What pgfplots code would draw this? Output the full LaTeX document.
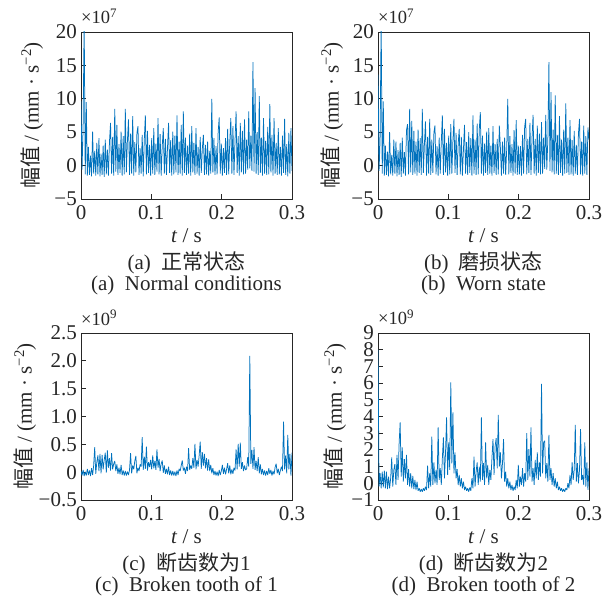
\documentclass[border=0pt]{standalone}
\usepackage{fontspec}
\setmainfont{Liberation Serif}
\newfontfamily\cjk{Noto Sans CJK SC}
\usepackage{pgfplots}
\usepackage{pgfplotstable}
\pgfplotsset{compat=1.18}
\definecolor{mblue}{RGB}{0,114,189}
\definecolor{axgray}{RGB}{38,38,38}
\pgfplotstableread{
t a b c d
0 9.6 13.6 0.02 8.0
0.0015 -0.6 -0.8 -0.06 -0.2
0.003 6.0 4.0 0.04 0.6
0.0045 22.0 22.0 -0.07 -0.3
0.006 -1.3 -1.2 0.01 0.7
0.0075 9.5 9.6 -0.06 -0.25
0.009 -1.5 -1.5 0.06 0.75
0.0105 2.8 3.0 -0.05 -0.3
0.012 -1.4 -1.4 0.03 0.7
0.0135 1.5 2.1 -0.07 -0.35
0.015 -1.6 -1.6 0.07 0.4
0.0165 5.1 5.0 -0.05 -0.3
0.018 -1.2 -1.3 0.12 0.3
0.0195 2.2 1.6 0.45 1.55
0.021 -1.5 -1.5 -0.03 -0.2
0.0225 3.4 3.9 0.18 0.8
0.024 -1.3 -1.2 0.30 1.15
0.0255 4.1 3.6 0.02 -0.1
0.027 -1.6 -1.6 0.33 1.7
0.0285 1.8 2.3 -0.02 0.2
0.03 -1.4 -1.4 0.31 2.35
0.0315 3.0 3.4 0.05 3.65
0.033 -1.7 -1.7 0.22 0.4
0.0345 3.9 4.2 0.35 2.15
0.036 -1.3 -1.2 -0.01 0.1
0.0375 2.4 2.0 0.39 1.45
0.039 -1.5 -1.5 0.08 0.3
0.0405 3.6 5.3 0.25 1.7
0.042 6.4 6.2 0.03 -0.1
0.0435 -1.2 -1.3 0.34 0.85
0.045 4.3 8.5 0.05 -0.2
0.0465 -1.5 -1.0 0.15 0.6
0.048 8.5 6.7 0.20 -0.3
0.0495 -0.9 -1.4 0.02 0.45
0.051 6.1 5.2 0.14 -0.35
0.0525 -1.4 -1.2 -0.03 0.2
0.054 3.2 3.6 0.08 -0.4
0.0555 -1.1 -1.5 -0.04 0.1
0.057 5.1 5.4 0.13 -0.45
0.0585 -1.5 -1.1 -0.05 -0.3
0.06 4.4 4.1 0.03 -0.5
0.0615 -1.3 -1.4 -0.06 -0.35
0.063 8.5 8.5 0.02 -0.5
0.0645 -1.0 -1.1 -0.06 -0.3
0.066 3.7 3.2 0.01 -0.45
0.0675 6.9 6.6 -0.05 -0.2
0.069 -1.4 -1.5 0.04 -0.4
0.0705 4.8 4.3 0.34 1.05
0.072 -1.2 -1.2 -0.02 -0.3
0.0735 7.4 7.0 0.12 0.6
0.075 -1.5 -1.4 0.05 -0.2
0.0765 3.5 3.9 0.20 2.8
0.078 -1.0 -1.1 0.29 -0.1
0.0795 4.9 5.0 -0.02 1.25
0.081 5.9 6.0 0.08 0.0
0.0825 -1.4 -1.3 0.02 0.8
0.084 2.6 2.9 0.14 -0.1
0.0855 -1.2 -1.5 0.10 3.35
0.087 4.6 4.2 0.63 0.2
0.0885 -1.6 -1.2 0.04 0.9
0.09 3.9 3.5 0.28 -0.1
0.0915 7.5 7.5 0.06 1.5
0.093 -1.3 -1.4 0.46 2.75
0.0945 5.2 5.5 0.03 0.3
0.096 -1.1 -1.0 0.18 1.8
0.0975 3.1 3.4 0.09 3.95
0.099 -1.5 -1.5 0.22 0.5
0.1005 4.1 4.5 0.05 2.45
0.102 -1.2 -1.3 0.30 0.8
0.1035 5.6 6.2 0.07 6.05
0.105 -1.4 -1.2 0.20 1.2
0.1065 3.3 3.7 0.04 4.25
0.108 -0.9 7.0 0.41 0.6
0.1095 7.1 -1.1 0.08 1.85
0.111 -1.3 4.9 0.24 0.3
0.1125 4.7 -1.4 0.02 0.85
0.114 -1.5 3.2 0.15 -0.1
0.1155 2.9 5.5 0.21 0.5
0.117 5.6 -1.3 -0.01 -0.2
0.1185 -1.2 4.3 0.12 0.3
0.12 4.0 -1.5 -0.03 -0.3
0.1215 -1.4 2.4 0.06 0.1
0.123 2.7 6.1 -0.04 -0.4
0.1245 6.4 -1.2 0.10 -0.2
0.126 -1.1 3.5 -0.05 -0.45
0.1275 3.8 -1.4 0.03 -0.3
0.129 -1.5 5.0 -0.06 -0.5
0.1305 5.1 -1.1 0.02 -0.25
0.132 -1.3 4.1 -0.06 -0.45
0.1335 4.5 -1.5 0.01 0.3
0.135 -1.0 7.5 -0.07 -0.3
0.1365 7.5 -1.2 0.03 1.6
0.138 -1.4 3.9 -0.05 -0.2
0.1395 3.6 -1.4 0.06 0.7
0.141 -1.2 6.3 0.02 1.25
0.1425 6.1 -1.3 0.12 -0.1
0.144 -1.5 5.4 0.21 1.0
0.1455 8.1 8.0 0.03 0.1
0.147 -1.1 -1.2 0.08 3.95
0.1485 4.2 4.5 -0.03 0.2
0.15 -1.4 -1.5 0.10 1.2
0.1515 3.0 3.3 0.02 -0.1
0.153 -1.2 -1.1 0.43 2.45
0.1545 4.8 5.1 0.04 0.3
0.156 -1.5 -1.4 0.12 1.1
0.1575 5.9 5.6 0.06 -0.1
0.159 -1.0 -1.2 0.25 0.8
0.1605 3.4 3.0 0.08 0.2
0.162 -1.4 -1.5 0.51 1.5
0.1635 5.6 5.9 0.05 2.65
0.165 -1.2 -1.1 0.22 0.5
0.1665 2.8 3.2 0.10 2.2
0.168 -1.5 -1.4 0.30 2.7
0.1695 4.3 4.0 0.55 0.9
0.171 -1.1 -1.3 0.06 4.1
0.1725 2.5 6.0 0.36 1.0
0.174 4.6 2.7 0.12 1.85
0.1755 -1.4 -1.5 0.33 0.3
0.177 3.1 3.6 0.07 1.2
0.1785 -1.3 -1.2 0.25 2.65
0.18 3.6 4.2 0.03 0.1
0.1815 -1.5 -1.4 0.23 0.7
0.183 2.2 2.5 0.02 -0.2
0.1845 -1.2 10.0 0.13 0.3
0.186 10.0 -1.3 -0.02 -0.3
0.1875 -1.0 4.4 0.07 0.1
0.189 4.1 -1.1 -0.05 -0.4
0.1905 -1.4 3.2 0.02 -0.1
0.192 2.9 -1.5 -0.06 -0.45
0.1935 -1.3 5.3 0.01 -0.2
0.195 5.0 -1.2 -0.07 -0.4
0.1965 7.2 6.8 0.04 0.2
0.198 -1.2 -1.4 -0.05 -0.3
0.1995 3.3 3.0 0.02 1.1
0.201 -1.5 -1.3 0.13 -0.2
0.2025 2.6 2.9 -0.03 0.4
0.204 -1.1 -1.5 0.08 -0.1
0.2055 4.1 4.6 -0.04 0.9
0.207 -1.4 -1.2 0.05 -0.2
0.2085 5.5 5.8 0.16 0.6
0.21 -1.3 7.0 -0.02 0.1
0.2115 3.5 -1.3 0.12 3.0
0.213 7.1 4.0 -0.04 0.2
0.2145 -1.2 -1.1 0.05 2.05
0.216 5.9 6.4 -0.03 0.4
0.2175 -1.4 -1.4 0.08 3.35
0.219 3.8 4.1 0.03 0.1
0.2205 8.1 7.6 0.41 0.9
0.222 -1.1 -1.2 0.05 -0.1
0.2235 4.4 4.0 0.51 1.4
0.225 -1.5 -1.5 0.10 0.3
0.2265 6.4 6.0 0.53 1.85
0.228 -1.0 -1.1 0.06 0.2
0.2295 5.2 4.8 0.18 1.25
0.231 -1.3 -1.3 0.02 0.4
0.2325 6.9 6.5 0.12 5.95
0.234 -1.2 -1.2 0.04 0.6
0.2355 3.9 4.2 0.06 2.45
0.237 -0.6 -0.5 0.27 2.55
0.2385 8.1 7.6 0.10 0.3
0.24 -0.4 -0.6 2.09 1.2
0.2415 4.5 4.0 0.15 0.1
0.243 -0.8 15.5 0.40 2.9
0.2445 15.5 -0.8 0.06 0.2
0.246 -0.9 11.0 0.45 0.9
0.2475 11.6 -1.0 0.04 -0.1
0.249 -1.2 5.4 0.20 0.6
0.2505 5.0 -1.3 0.02 -0.2
0.252 -1.4 10.5 0.27 0.3
0.2535 10.4 -1.2 -0.02 -0.3
0.255 -1.1 4.6 0.14 0.1
0.2565 4.2 -1.4 -0.04 -0.4
0.258 -1.5 7.4 0.06 -0.2
0.2595 7.1 -1.1 -0.05 -0.45
0.261 -1.2 3.9 0.03 -0.3
0.2625 3.7 -1.5 -0.06 -0.5
0.264 -1.4 5.4 0.02 -0.35
0.2655 5.8 -1.2 -0.05 -0.5
0.267 -1.3 9.3 0.07 -0.3
0.2685 9.2 -1.1 -0.03 -0.4
0.27 -1.0 4.2 0.04 0.0
0.2715 4.6 -1.4 -0.06 -0.3
0.273 -1.5 6.8 0.02 0.5
0.2745 7.1 -1.3 -0.04 -0.1
0.276 -1.2 3.8 0.09 1.25
0.2775 3.4 -1.5 0.15 0.2
0.279 -1.4 5.2 -0.02 0.8
0.2805 5.6 -1.2 0.06 3.5
0.282 -1.3 3.1 -0.05 0.1
0.2835 2.8 -1.4 0.03 1.2
0.285 -1.5 4.8 0.10 0.0
0.2865 4.5 7.0 0.02 0.8
0.288 -1.1 -1.3 0.91 3.25
0.2895 7.0 3.6 0.05 0.2
0.291 -1.4 -1.5 0.30 0.5
0.2925 3.2 6.0 -0.02 -0.1
0.294 -1.6 -1.2 0.67 2.45
0.2955 4.9 4.4 0.05 -0.2
0.297 -1.2 -1.4 0.33 1.25
0.2985 5.6 5.7 -0.06 -0.4
0.3 -0.8 3.9 0.35 0.9
}\sig

\newcommand\fs{\fontsize{21}{25}\selectfont}
\newcommand\ylab{{\cjk 幅值} / (mm · s\textsuperscript{−2})}
\pgfplotsset{
  panel/.style={
    scale only axis, width=211pt, height=167pt, anchor=south west,
    xmin=0, xmax=0.3, xtick={0,0.1,0.2,0.3}, xticklabels={0,0.1,0.2,0.3},
    tick pos=left, tick align=inside, major tick length=5pt,
    axis line style={axgray, line width=0.8pt},
    every tick/.style={axgray, line width=0.8pt},
    tick label style={font=\fs, text=axgray},
    xticklabel style={yshift=-3pt},
    yticklabel style={inner xsep=4pt, inner ysep=0pt},
    scaled ticks=false, clip mode=individual,
  },
  sig/.style={mblue, line width=0.75pt, line join=bevel, mark=none},
}
\newcommand\decor[4]{%
  \node[font=\fs, rotate=90, text=axgray] at (axis description cs:#1,0.5) {\ylab};
  \node[font=\fontsize{18.5}{20}\selectfont, anchor=base west, inner sep=0pt, text=axgray, yshift=8pt] at (axis description cs:0,1) {×10\textsuperscript{#2}};
  \node[font=\fs, text=axgray, yshift=-37pt] at (axis description cs:0.5,0) {\textit{t} / s};
  \node[font=\fs, text=axgray, yshift=-64pt] at (axis description cs:0.5,0) {#3};
  \node[font=\fs, text=axgray, yshift=-86pt] at (axis description cs:0.5,0) {#4};
}

\begin{document}
\begin{tikzpicture}
\path[use as bounding box] (0,0) rectangle (614pt,600pt);

\begin{axis}[panel, at={(81pt,401pt)}, ymin=-5, ymax=20,
  ytick={-5,0,5,10,15,20}, yticklabels={−5,0,5,10,15,20}]
\addplot[sig] table[x=t,y=a]{\sig};
\decor{-0.232}{7}{(a)\enspace{\cjk 正常状态}}{(a)\enspace Normal conditions}
\end{axis}

\begin{axis}[panel, at={(378pt,401pt)}, ymin=-5, ymax=20,
  ytick={-5,0,5,10,15,20}, yticklabels={−5,0,5,10,15,20}]
\addplot[sig] table[x=t,y=b]{\sig};
\decor{-0.218}{7}{(b)\enspace{\cjk 磨损状态}}{(b)\enspace Worn state}
\end{axis}

\begin{axis}[panel, at={(81pt,100pt)}, ymin=-0.5, ymax=2.5,
  ytick={-0.5,0,0.5,1,1.5,2,2.5}, yticklabels={−0.5,0,0.5,1.0,1.5,2.0,2.5}]
\addplot[sig] table[x=t,y=c]{\sig};
\decor{-0.265}{9}{(c)\enspace{\cjk 断齿数为}1}{(c)\enspace Broken tooth of 1}
\end{axis}

\begin{axis}[panel, at={(378pt,100pt)}, ymin=-1, ymax=9,
  ytick={-1,0,1,2,3,4,5,6,7,8,9}, yticklabels={−1,0,1,2,3,4,5,6,7,8,9}]
\addplot[sig] table[x=t,y=d]{\sig};
\decor{-0.204}{9}{(d)\enspace{\cjk 断齿数为}2}{(d)\enspace Broken tooth of 2}
\end{axis}
\end{tikzpicture}
\end{document}
